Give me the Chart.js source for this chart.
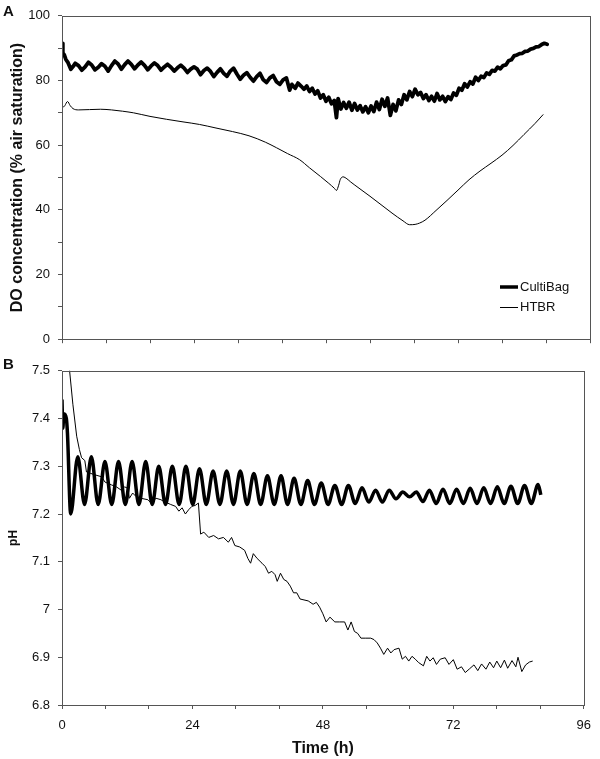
<!DOCTYPE html>
<html><head><meta charset="utf-8">
<script src="https://cdn.jsdelivr.net/npm/chart.js@4"></script>
<style>
html,body{margin:0;padding:0;background:#fff;}
#wrap{position:relative;width:600px;height:759px;overflow:hidden;font-family:"Liberation Sans",Arial,sans-serif;}
#c1{position:absolute;left:0;top:0;}
#c2{position:absolute;left:0;top:355px;}
.pl{position:absolute;font-weight:bold;font-size:15px;color:#111;line-height:1;}
</style></head>
<body><div id="wrap">
<canvas id="c1" width="600" height="355"></canvas>
<canvas id="c2" width="600" height="404"></canvas>
<div class="pl" style="left:3px;top:3px">A</div>
<div class="pl" style="left:3px;top:356px">B</div>
</div>
<script>
// ---- data (time in h, value) ----
const seriesNames = ['CultiBag', 'HTBR'];
const xTickLabels = [0, 24, 48, 72, 96];
const doTickLabels = [0, 20, 40, 60, 80, 100];
const phTickLabels = [6.8, 6.9, 7, 7.1, 7.2, 7.3, 7.4, 7.5];

const doCultiBag = [
[0,91.5],[0.15,88.5],[0.4,88],[0.7,86.5],[1.1,85.5],[1.6,83.5],[2.0,84.3],[2.4,85.3],[3.0,84.6],[3.6,83.2],[4.2,84.2],[4.8,85.6],[5.4,84.8],[6.0,83.3],
[6.6,84.1],[7.2,85.2],[7.8,84.4],[8.4,82.9],[9.0,84.6],[9.6,86.0],[10.2,85.1],[10.8,83.5],[11.4,84.9],[12.0,86.0],[12.6,85.0],[13.2,83.6],[13.8,84.8],[14.4,85.7],
[15.0,84.7],[15.6,83.3],[16.2,84.5],[16.8,85.4],[17.4,84.6],[18.0,83.2],[18.6,84.2],[19.2,85.0],[19.8,84.1],[20.4,82.9],[21.0,83.9],[21.6,84.7],[22.2,83.8],[22.8,82.5],
[23.4,83.5],[24.0,84.2],[24.6,83.5],[25.2,81.8],[25.8,83.1],[26.4,83.8],[27.0,82.8],[27.6,81.2],[28.2,82.5],
[28.8,83.6],[29.4,82.2],[30.0,81.3],[30.6,82.9],[31.2,83.8],[31.8,82.0],[32.4,80.4],[33.0,81.6],[33.6,82.4],[34.2,81.0],[34.8,79.8],
[35.4,81.2],[36.0,82.2],[36.6,80.2],[37.2,79.4],[37.8,80.8],[38.4,81.5],[39.0,79.6],[39.6,78.8],[40.2,80.2],[40.8,80.8],
[41.4,77.0],[41.8,78.8],[42.4,77.6],[42.9,79.2],[43.5,78.2],[44.0,77.3],[44.5,78.3],[45.0,76.6],[45.5,77.6],[46.0,75.8],
[46.5,76.8],[47.0,74.6],[47.5,75.6],[48.0,73.6],[48.5,74.8],[49.0,72.8],[49.5,73.8],[49.9,68.5],[50.2,74.4],[50.7,71.2],
[51.2,73.2],[51.7,71.4],[52.2,73.3],[52.7,70.8],[53.2,72.9],[53.7,70.9],[54.2,72.2],[54.7,70.3],[55.2,71.9],[55.7,70.0],
[56.2,72.1],[56.7,70.4],[57.2,73.3],[57.7,71.0],[58.2,74.2],[58.7,72.0],[59.2,74.6],[59.7,69.2],[60.2,72.6],[60.7,70.6],
[61.2,74.0],[61.7,72.6],[62.2,75.6],[62.7,74.0],[63.2,76.6],[63.7,75.0],[64.2,77.3],[64.7,75.6],[65.2,76.3],[65.7,74.4],
[66.2,75.6],[66.7,73.8],[67.2,75.1],[67.7,73.6],[68.2,76.0],[68.7,74.0],[69.2,75.1],[69.7,73.5],[70.2,75.0],[70.7,74.1],
[71.2,76.1],[71.7,75.4],[72.2,77.6],[72.7,77.0],[73.2,79.0],[73.7,78.0],[74.2,79.6],[74.7,78.9],[75.2,81.0],[75.7,80.0],
[76.2,81.3],[76.7,80.9],[77.2,82.3],[77.7,81.9],[78.2,83.1],[78.7,82.9],[79.2,84.1],[79.7,83.6],[80.2,84.6],[80.7,84.8],
[81.2,86.1],[81.7,86.4],[82.2,87.6],[82.7,87.9],[83.2,88.3],[83.7,88.4],[84.2,89.0],[84.7,89.1],[85.2,89.7],[85.7,89.9],
[86.2,90.4],[86.7,90.5],[87.2,91.1],[87.7,91.5],[88.2,91.2]
];

const doHTBR = [
[0,71.4],[0.5,72.2],[1.0,73.5],[1.5,72.2],[2.0,71.3],[3,70.9],[5,71.0],[7,71.1],[9,70.9],[11,70.5],
[13,70.0],[16,68.9],[19,68.0],[22,67.2],[25,66.4],[28,65.3],[31,64.2],[34,62.9],[37,60.9],[39,59.2],
[41,57.4],[43.2,55.5],[45,53.0],[47,50.3],[48.5,48.2],[49.5,46.7],[49.9,46.0],[50.3,47.6],[50.6,49.4],[51.1,50.2],
[51.8,49.6],[52.5,48.6],[54,46.7],[56,44.2],[58,41.6],[60,39.0],[62,36.6],[63.2,35.4],[64.2,35.5],[65,35.9],
[66,36.8],[68,39.8],[70,42.9],[72,46.1],[74,49.3],[76,52.0],[78,54.4],[80,56.9],[82,59.9],[84,63.3],
[86,66.7],[87.5,69.5]
];

const phCultiBag = [
[0,7.44],[0.15,7.38],[0.35,7.41],[0.8,7.40],[1.0,7.37],[1.6,7.20],
[2.9,7.32],[4.15,7.22],[5.4,7.32],[6.65,7.22],[7.9,7.31],[9.15,7.22],[10.4,7.31],[11.65,7.22],[12.9,7.31],[14.15,7.22],
[15.4,7.31],[16.6,7.22],[17.8,7.30],[19.05,7.22],[20.3,7.30],[21.55,7.22],[22.8,7.30],[24.05,7.22],[25.3,7.295],[26.55,7.22],
[27.8,7.29],[29.05,7.22],[30.3,7.29],[31.55,7.22],[32.8,7.29],[34.05,7.22],[35.3,7.285],[36.55,7.22],[37.8,7.28],[39.05,7.22],
[40.3,7.28],[41.5,7.22],[42.7,7.275],[43.95,7.22],[45.2,7.27],[46.45,7.22],[47.7,7.265],[48.95,7.22],[50.2,7.26],[51.45,7.22],
[52.7,7.26],[53.95,7.222],[55.2,7.255],[56.45,7.225],[57.7,7.25],[58.95,7.225],[60.2,7.25],[61.45,7.232],[62.7,7.246],[63.95,7.236],
[65.2,7.246],[66.4,7.226],[67.6,7.25],[68.85,7.222],[70.1,7.252],[71.35,7.222],[72.6,7.252],[73.85,7.222],[75.1,7.254],[76.35,7.222],
[77.6,7.255],[78.85,7.222],[80.1,7.257],[81.35,7.222],[82.6,7.258],[83.85,7.222],[85.1,7.26],[86.35,7.222],[87.6,7.262],[88.1,7.24]
];

const phHTBR = [
[0.9,7.62],[1.4,7.5],[2.0,7.43],[2.7,7.363],[3.2,7.335],[3.6,7.318],[4.2,7.312],[4.5,7.288],[5.3,7.285],[6.1,7.282],
[7.3,7.278],[7.9,7.267],[9.1,7.261],[10.0,7.257],[10.9,7.25],[11.5,7.257],[12.1,7.254],[12.4,7.233],[13.0,7.244],[13.6,7.237],
[14.5,7.233],[15.8,7.23],[16.4,7.223],[17.3,7.233],[18.2,7.23],[18.8,7.226],[20.0,7.22],[20.9,7.216],[21.5,7.206],[22.1,7.213],
[22.7,7.2],[23.3,7.209],[23.9,7.216],[24.5,7.218],[25.1,7.223],[25.5,7.158],[26.1,7.162],[27.0,7.151],[27.9,7.155],[28.8,7.148],
[29.7,7.151],[30.6,7.141],[31.2,7.151],[31.8,7.134],[32.7,7.131],[33.6,7.124],[34.2,7.107],[34.7,7.097],[35.2,7.117],[35.9,7.107],
[36.8,7.097],[37.4,7.09],[38.0,7.076],[38.6,7.08],[39.2,7.073],[39.6,7.059],[40.2,7.076],[40.8,7.063],[41.4,7.059],[42.0,7.049],
[42.6,7.035],[43.2,7.035],[43.8,7.022],[45.3,7.018],[46.2,7.011],[46.8,7.015],[47.4,7.005],[48.0,6.991],[48.6,6.974],[49.3,6.984],
[50.2,6.974],[51.1,6.974],[52.0,6.974],[52.6,6.957],[53.2,6.974],[53.8,6.954],[54.4,6.950],[55.0,6.940],[55.9,6.940],[56.8,6.940],
[57.4,6.937],[58.0,6.930],[58.6,6.919],[59.2,6.906],[59.9,6.919],[60.5,6.909],[61.1,6.916],[62.0,6.919],[62.6,6.896],[63.2,6.902],
[63.8,6.892],[64.4,6.902],[65.0,6.896],[65.6,6.889],[66.5,6.882],[67.1,6.902],[67.7,6.892],[68.3,6.899],[68.9,6.885],[69.6,6.896],
[70.5,6.899],[71.2,6.885],[72.0,6.895],[72.7,6.875],[73.5,6.88],[74.2,6.868],[75.0,6.876],[75.8,6.884],[76.5,6.872],[77.2,6.886],
[78.0,6.875],[78.7,6.89],[79.4,6.878],[80.0,6.892],[80.7,6.878],[81.4,6.894],[82.0,6.877],[82.8,6.893],[83.5,6.88],[83.9,6.9],
[84.6,6.87],[85.3,6.884],[86.0,6.89],[86.6,6.892]
];

// ---- styling ----
const FAM = '"Liberation Sans", Arial, sans-serif';
const AX = '#555';
const TXT = '#111';
const toPts = arr => arr.map(p => ({x: p[0], y: p[1]}));
const near = (v, list) => list.some(t => Math.abs(t - v) < 1e-6);

const framePlugin = {
  id: 'frame',
  afterDatasetsDraw(chart) {
    const {ctx, chartArea: a} = chart;
    ctx.save();
    ctx.strokeStyle = AX; ctx.lineWidth = 1;
    ctx.strokeRect(Math.round(a.left) + 0.5, Math.round(a.top) + 0.5,
                   Math.round(a.right - a.left), Math.round(a.bottom - a.top));
    ctx.restore();
  }
};

const legendPlugin = {
  id: 'insideLegend',
  afterDraw(chart) {
    const {ctx, chartArea: a} = chart;
    ctx.save();
    ctx.font = '13px ' + FAM;
    ctx.textBaseline = 'middle';
    ctx.fillStyle = TXT;
    chart.data.datasets.forEach((ds, i) => {
      const y = Math.round(a.bottom - 52 + i * 20) + (ds.borderWidth < 2 ? 0.5 : 0);
      ctx.strokeStyle = ds.borderColor;
      ctx.lineWidth = ds.borderWidth < 2 ? 1 : 3.5;
      ctx.beginPath();
      ctx.moveTo(a.right - 90, y); ctx.lineTo(a.right - 72, y);
      ctx.stroke();
      ctx.fillText(ds.label, a.right - 70, y);
    });
    ctx.restore();
  }
};

const tickFont = {family: FAM, size: 13};

function xScale(showLabels) {
  return {
    type: 'linear', min: 0, max: 96,
    ticks: {stepSize: 8, autoSkip: false, maxRotation: 0, padding: 9, font: tickFont, color: TXT,
            callback: v => (showLabels && near(v, xTickLabels)) ? String(v) : ''},
    grid: {drawOnChartArea: false, tickLength: 4, color: AX},
    border: {display: false}
  };
}

// ---- Panel A: DO ----
new Chart(document.getElementById('c1'), {
  type: 'line',
  data: {datasets: [
    {label: seriesNames[0], data: toPts(doCultiBag), borderColor: '#000', borderWidth: 3.8,
     pointRadius: 0, tension: 0, borderJoinStyle: 'round', borderCapStyle: 'round'},
    {label: seriesNames[1], data: toPts(doHTBR), borderColor: '#000', borderWidth: 1,
     pointRadius: 0, cubicInterpolationMode: 'monotone'}
  ]},
  options: {
    responsive: false, animation: false, events: [],
    layout: {padding: {top: 10, right: 10, bottom: 0, left: 0}},
    plugins: {legend: {display: false}, tooltip: {enabled: false}},
    scales: {
      x: Object.assign(xScale(false), {afterFit: s => { s.height = 8; }}),
      y: {
        min: 0, max: 100,
        ticks: {stepSize: 10, autoSkip: false, padding: 8, font: tickFont, color: TXT,
                callback: v => near(v, doTickLabels) ? String(v) : ''},
        grid: {drawOnChartArea: false, tickLength: 4, color: AX},
        border: {display: false},
        title: {display: true, text: 'DO concentration (% air saturation)', color: TXT,
                font: {family: FAM, size: 16, weight: 'bold'}, padding: {top: 8, bottom: 0}},
        afterFit: s => { s.width = 62; }
      }
    }
  },
  plugins: [framePlugin, legendPlugin]
});

// ---- Panel B: pH ----
new Chart(document.getElementById('c2'), {
  type: 'line',
  data: {datasets: [
    {label: seriesNames[0], data: toPts(phCultiBag), borderColor: '#000', borderWidth: 3.5,
     pointRadius: 0, cubicInterpolationMode: 'monotone', borderJoinStyle: 'round'},
    {label: seriesNames[1], data: toPts(phHTBR), borderColor: '#000', borderWidth: 1,
     pointRadius: 0, tension: 0}
  ]},
  options: {
    responsive: false, animation: false, events: [],
    layout: {padding: {top: 8, right: 10, bottom: 0, left: 0}},
    plugins: {legend: {display: false}, tooltip: {enabled: false}},
    scales: {
      x: Object.assign(xScale(true), {
        title: {display: true, text: 'Time (h)', color: TXT,
                font: {family: FAM, size: 16, weight: 'bold'}, padding: {top: 0, bottom: 1}},
        afterFit: s => { s.height = 54; }
      }),
      y: {
        min: 6.8, max: 7.5,
        ticks: {stepSize: 0.1, autoSkip: false, padding: 8, font: tickFont, color: TXT,
                callback: v => {
                  const r = Math.round(v * 10) / 10;
                  return near(r, phTickLabels) ? String(r) : '';
                }},
        grid: {drawOnChartArea: false, tickLength: 4, color: AX},
        border: {display: false},
        title: {display: true, text: 'pH', color: TXT,
                font: {family: FAM, size: 12, weight: 'bold'}, padding: {top: 6, bottom: 0}},
        afterFit: s => { s.width = 62; }
      }
    }
  },
  plugins: [framePlugin]
});
</script>
</body></html>
